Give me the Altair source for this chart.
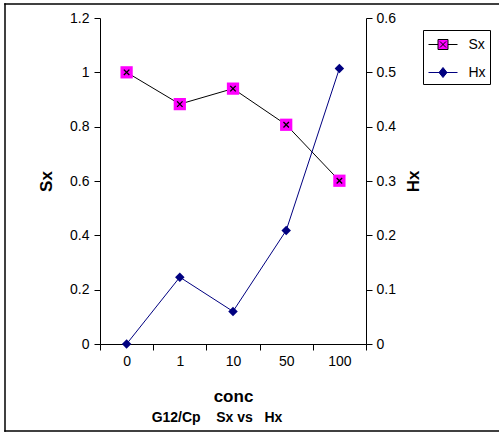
import altair as alt
import pandas as pd

cats = ["0", "1", "10", "50", "100"]
sx = [1.0, 0.883, 0.94, 0.807, 0.601]
hx = [0.0, 0.123, 0.06, 0.209, 0.507]
series_names = ["Sx", "Hx"]
subtitle = "G12/Cp\u00a0\u00a0\u00a0\u00a0Sx vs\u00a0\u00a0\u00a0Hx"

MAGENTA = "#ff00ff"
NAVY = "#000080"
FONT = "Liberation Sans"

df = pd.DataFrame({"conc": cats, "Sx": sx, "Hx": hx})

x_enc = alt.X(
    "conc:O",
    sort=cats,
    bandPosition=0.5,
    scale=alt.Scale(type="band", paddingInner=0, paddingOuter=0),
    axis=alt.Axis(title="conc", labelAngle=0, tickBand="extent", tickSize=6,
                  labelPadding=4, titlePadding=20, labelFontSize=14,
                  titleFontSize=17),
)

y_sx = alt.Y(
    "Sx:Q",
    scale=alt.Scale(domain=[0, 1.2], nice=False),
    axis=alt.Axis(title="Sx", values=[0, 0.2, 0.4, 0.6, 0.8, 1.0, 1.2],
                  format=".1~f", grid=False, tickSize=6, labelPadding=5,
                  titlePadding=14, labelFontSize=14, titleFontSize=17),
)
y_hx = alt.Y(
    "Hx:Q",
    scale=alt.Scale(domain=[0, 0.6], nice=False),
    axis=alt.Axis(title="Hx", orient="right", values=[0, 0.1, 0.2, 0.3, 0.4, 0.5, 0.6],
                  format=".1~f", grid=False, tickSize=6, labelPadding=4,
                  titlePadding=27, titleAngle=270, labelFontSize=14,
                  titleFontSize=17),
)

base = alt.Chart(df)

sx_line = base.mark_line(color="black", strokeWidth=1).encode(x=x_enc, y=y_sx)
sx_sq = base.mark_point(shape="square", filled=True, color=MAGENTA, size=150, opacity=1).encode(x=x_enc, y=y_sx)
sx_x = base.mark_point(shape="M-1,-1L1,1M-1,1L1,-1", filled=False, color="black",
                       strokeWidth=1.3, size=30, opacity=1).encode(x=x_enc, y=y_sx)
sx_layer = alt.layer(sx_line, sx_sq, sx_x)

hx_line = base.mark_line(color=NAVY, strokeWidth=1).encode(x=x_enc, y=y_hx)
hx_pt = base.mark_point(shape="diamond", filled=True, color=NAVY, size=90, opacity=1).encode(x=x_enc, y=y_hx)
hx_layer = alt.layer(hx_line, hx_pt)

# legend symbols (unit = 10 px for symbolSize 400)
sx_sym = "M-1.45,0H-0.5M0.5,0H1.45M-0.5,-0.5H0.5V0.5H-0.5ZM-0.3,-0.3L0.3,0.3M-0.3,0.3L0.3,-0.3"
hx_sym = "M-1.45,0H1.45M0,-0.5L0.4,0L0,0.5L-0.4,0Z"

leg_df = pd.DataFrame({"series": series_names})
legend_layer = alt.Chart(leg_df).transform_filter("false").mark_point(filled=True, opacity=1).encode(
    shape=alt.Shape("series:N", scale=alt.Scale(domain=series_names, range=[sx_sym, hx_sym]),
                    legend=alt.Legend(title=None)),
    fill=alt.Fill("series:N", scale=alt.Scale(domain=series_names, range=[MAGENTA, NAVY]),
                  legend=alt.Legend(title=None)),
    stroke=alt.Stroke("series:N", scale=alt.Scale(domain=series_names, range=["black", NAVY]),
                      legend=alt.Legend(title=None)),
)

# outer frame as thin filled bars (left, top and bottom edges)
frame_src = alt.Chart(pd.DataFrame({"a": [0]}))
frame_left = frame_src.mark_rect(color="black", strokeWidth=0).encode(
    x=alt.value(-95.75), x2=alt.value(-94.25), y=alt.value(-14.75), y2=alt.value(413.75))
frame_top = frame_src.mark_rect(color="black", strokeWidth=0).encode(
    x=alt.value(-95.75), x2=alt.value(420), y=alt.value(-14.75), y2=alt.value(-13.25))
frame_bottom = frame_src.mark_rect(color="black", strokeWidth=0).encode(
    x=alt.value(-95.75), x2=alt.value(420), y=alt.value(412.25), y2=alt.value(413.75))

chart = alt.layer(sx_layer, hx_layer, legend_layer, frame_left, frame_top, frame_bottom).resolve_scale(
    y="independent"
).properties(
    width=266,
    height=326,
    autosize=alt.AutoSizeParams(type="none"),
    padding={"left": 100, "top": 18, "right": 133, "bottom": 88},
    title=alt.Title(subtitle, orient="bottom", fontSize=14, fontWeight="bold",
                    font=FONT, color="black", offset=-21, dx=-16, anchor="middle"),
).configure_view(stroke=None).configure_axis(
    labelFont=FONT, titleFont=FONT, labelColor="black", titleColor="black",
    domainColor="black", tickColor="black", domainWidth=1, tickWidth=1,
    titleFontWeight="bold",
).configure_legend(
    orient="none", legendX=323, legendY=12, fillColor="white",
    strokeColor="black", strokeWidth=1, padding=4,
    labelFont=FONT, labelFontSize=14, labelColor="black",
    symbolSize=400, symbolStrokeWidth=1, symbolOffset=5.5, labelOffset=15, rowPadding=10,
)

chart.save("out.html", embed_options={"renderer": "svg", "actions": False})
